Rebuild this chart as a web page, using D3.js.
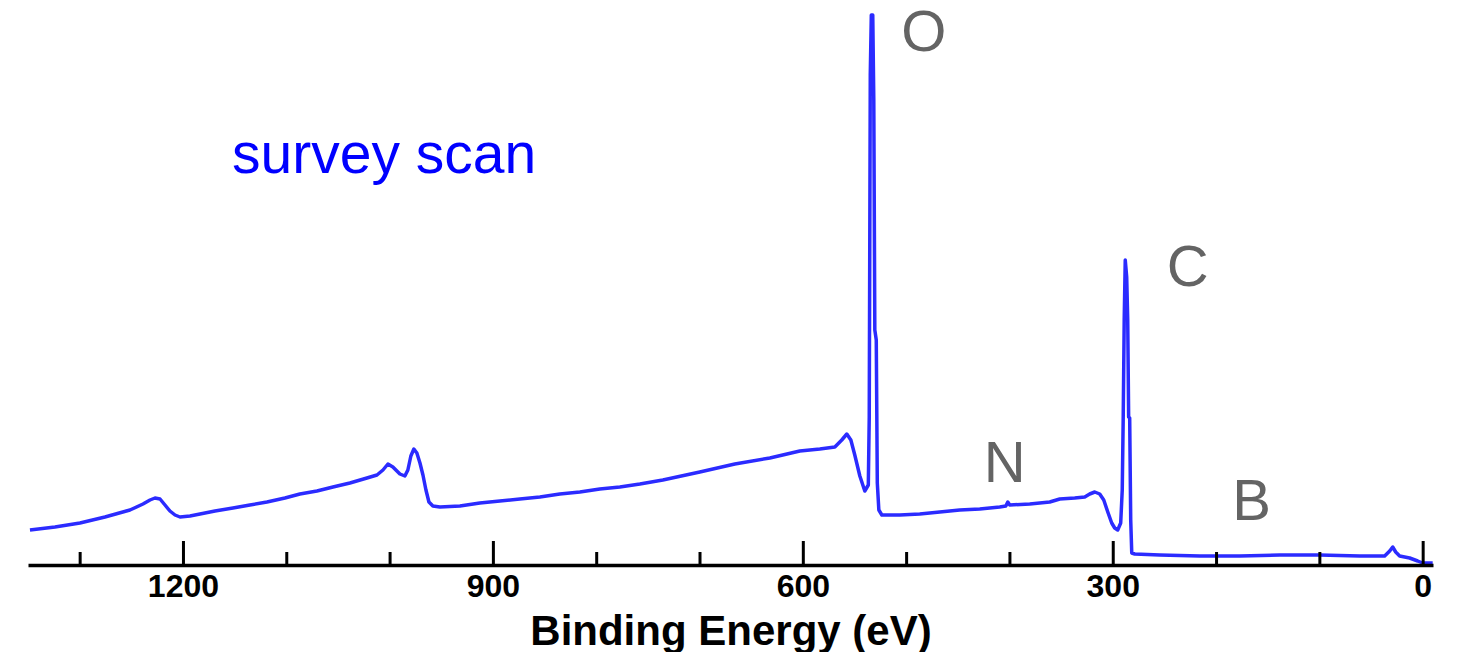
<!DOCTYPE html>
<html>
<head>
<meta charset="utf-8">
<script src="https://cdn.jsdelivr.net/npm/d3@7"></script>
<style>
  html, body { margin: 0; padding: 0; background: #fff; }
  svg { display: block; }
  text { font-family: "Liberation Sans", Arial, sans-serif; }
</style>
</head>
<body>
<svg id="chart" width="1460" height="652"></svg>
<script>
// survey spectrum (binding energy in eV, intensity in arb. units)
var energy = [
  1348.1, 1323.9, 1299.7, 1275.5, 1251.3, 1238.7, 1231.9, 1227.1, 1222.2, 1217.4,
  1212.6, 1207.7, 1202.9, 1193.2, 1183.5, 1169.0, 1151.6, 1135.2, 1118.7, 1101.3,
  1086.8, 1070.3, 1054.8, 1038.4, 1021.9, 1012.2, 1006.4, 1001.6, 996.8, 990.0,
  985.2, 982.3, 979.4, 976.5, 973.6, 970.6, 967.7, 964.8, 961.9, 958.1,
  951.3, 931.9, 912.6, 893.2, 873.9, 854.5, 835.2, 815.8, 796.5, 777.1,
  757.7, 735.5, 699.7, 665.8, 631.9, 602.9, 583.5, 569.0, 562.3, 557.4,
  553.5, 549.7, 544.8, 540.0, 536.6, 535.7, 534.7, 533.7, 532.3, 531.3,
  530.3, 528.9, 527.9, 526.4, 523.5, 506.1, 486.8, 467.4, 448.1, 428.7,
  409.4, 403.5, 401.6, 399.7, 380.3, 361.0, 351.3, 336.8, 327.1, 322.3,
  317.4, 312.6, 308.7, 304.8, 301.0, 298.1, 295.2, 292.3, 290.8, 289.9,
  288.9, 287.9, 286.5, 285.5, 284.6, 283.6, 282.6, 281.6, 278.7, 254.5,
  215.8, 177.1, 138.4, 99.7, 61.0, 36.8, 31.9, 29.0, 26.1, 22.3,
  12.6, 4.8, 0.0, -9.7
];
var intensity = [
  7.0, 7.6, 8.4, 9.6, 11.0, 12.2, 13.0, 13.4, 13.2, 12.0,
  10.8, 10.0, 9.6, 9.8, 10.2, 10.8, 11.4, 12.0, 12.6, 13.4,
  14.2, 14.8, 15.6, 16.4, 17.4, 18.0, 19.0, 20.2, 19.6, 18.2,
  17.8, 19.0, 21.8, 23.2, 22.4, 20.4, 18.0, 15.0, 12.6, 11.8,
  11.6, 11.8, 12.4, 12.8, 13.2, 13.6, 14.2, 14.6, 15.2, 15.6,
  16.2, 17.0, 18.6, 20.2, 21.4, 22.8, 23.2, 23.6, 25.0, 26.2,
  25.0, 22.0, 17.8, 14.8, 16.0, 29.6, 98.0, 110.0, 110.0, 93.0,
  47.0, 45.0, 16.4, 11.0, 10.0, 10.0, 10.2, 10.6, 11.0, 11.2,
  11.6, 11.8, 12.6, 12.0, 12.2, 12.6, 13.2, 13.4, 13.6, 14.2,
  14.6, 14.2, 13.0, 10.6, 8.4, 7.4, 7.0, 8.4, 15.0, 29.0,
  49.0, 61.0, 57.6, 49.0, 29.6, 29.4, 9.0, 2.4, 2.2, 2.0,
  1.8, 1.8, 2.0, 2.0, 1.8, 1.8, 2.8, 3.6, 2.6, 1.8,
  1.4, 0.8, 0.4, 0.4
];

var majorTicks = [1200, 900, 600, 300, 0];
var minorTicks = [1300, 1100, 1000, 800, 700, 500, 400, 200, 100];

var peakNames = ["O", "C", "N", "B"];
// label anchor: [energy, intensity] of each label's baseline centre
var peakLabelAt = [[482.9, 102.8], [227.4, 55.8], [404.5, 16.6], [165.5, 9.0]];

var svg = d3.select("#chart");

var x = d3.scaleLinear().domain([1350, -10]).range([28, 1433]);
var y = d3.scaleLinear().domain([0, 110]).range([565, 15]);

var points = energy.map(function(e, i) { return [e, intensity[i]]; });

// spectrum
svg.append("path")
  .datum(points)
  .attr("fill", "none")
  .attr("stroke", "#2b2bff")
  .attr("stroke-width", 3.5)
  .attr("stroke-linejoin", "round")
  .attr("d", d3.line().x(function(d) { return x(d[0]); }).y(function(d) { return y(d[1]); }));

// minor ticks
svg.append("g")
  .attr("transform", "translate(0,565)")
  .call(d3.axisBottom(x).tickValues(minorTicks).tickSize(-13).tickFormat(""))
  .call(function(g) {
    g.select(".domain").remove();
    g.selectAll(".tick line").attr("stroke", "#000").attr("stroke-width", 3);
  });

// major ticks + axis line
var ax = svg.append("g")
  .attr("transform", "translate(0,565)")
  .call(d3.axisBottom(x).tickValues(majorTicks).tickSize(-24).tickSizeOuter(0).tickFormat(d3.format("d")));

ax.select(".domain").attr("stroke", "#000").attr("stroke-width", 3.5);
ax.selectAll(".tick line").attr("stroke", "#000").attr("stroke-width", 3);
ax.selectAll(".tick text")
  .attr("y", 32)
  .attr("dy", 0)
  .attr("fill", "#000")
  .style("font-family", "'Liberation Sans', Arial, sans-serif")
  .style("font-size", "32px")
  .style("font-weight", "bold");

// axis title
svg.append("text")
  .attr("x", 731)
  .attr("y", 645)
  .attr("text-anchor", "middle")
  .style("font-size", "42px")
  .style("font-weight", "bold")
  .attr("fill", "#000")
  .text("Binding Energy (eV)");

// element labels
svg.selectAll(".peak")
  .data(peakNames)
  .enter()
  .append("text")
  .attr("class", "peak")
  .attr("x", function(d, i) { return x(peakLabelAt[i][0]); })
  .attr("y", function(d, i) { return y(peakLabelAt[i][1]); })
  .attr("text-anchor", "middle")
  .attr("fill", "#646464")
  .style("font-size", "58px")
  .text(function(d) { return d; });

svg.append("text")
  .attr("x", 232)
  .attr("y", 173)
  .attr("fill", "#0000ff")
  .style("font-size", "57px")
  .text("survey scan");
</script>
</body>
</html>
